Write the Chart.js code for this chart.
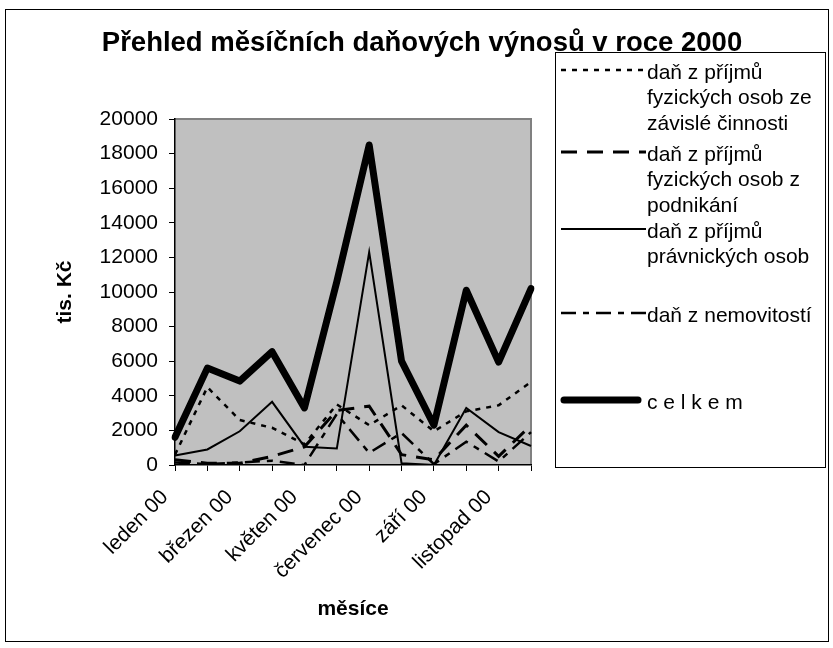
<!DOCTYPE html>
<html>
<head>
<meta charset="utf-8">
<script src="https://cdn.jsdelivr.net/npm/chart.js@4.4.1/dist/chart.umd.min.js"></script>
<style>
  html, body { margin: 0; padding: 0; background: #fff; }
  #wrap { width: 833px; height: 648px; }
</style>
</head>
<body>
<div id="wrap"><canvas id="chart" width="833" height="648"></canvas></div>
<script>
// mesice
const months = ["leden 00", "únor 00", "březen 00", "duben 00", "květen 00", "červen 00",
                "červenec 00", "srpen 00", "září 00", "říjen 00", "listopad 00", "prosinec 00"];

// tis. Kc
const zavisla = [600, 4500, 2600, 2150, 1200, 3500, 2300, 3450, 1950, 3100, 3450, 4800];
const podnikani = [300, 100, 100, 500, 1050, 3150, 3400, 600, 300, 2300, 500, 2300];
const pravnicke = [550, 900, 1950, 3650, 1060, 950, 12300, 100, 0, 3300, 1900, 1100];
const nemovitosti = [150, 50, 150, 250, 0, 2950, 700, 1850, 50, 1350, 200, 1900];
const celkem = [1600, 5600, 4850, 6550, 3300, 10600, 18500, 6000, 2300, 10100, 5950, 10200];

const yTicks = [0, 2000, 4000, 6000, 8000, 10000, 12000, 14000, 16000, 18000, 20000];

const legendLines = [
    ["daň z příjmů", "fyzických osob ze", "závislé činnosti"],
    ["daň z příjmů", "fyzických osob z", "podnikání"],
    ["daň z příjmů", "právnických osob"],
    ["daň z nemovitostí"],
    ["c e l k e m"]
];

const font = "'Liberation Sans', Arial, sans-serif";

const context = document.getElementById("chart").getContext("2d");

const area = { left: 175, top: 119, right: 531, bottom: 465 };

const excelLook = {
    id: "excelLook",
    beforeDraw(chart) {
        const ctx = chart.ctx;
        const ca = chart.chartArea;
        ctx.save();
        ctx.fillStyle = "#fff";
        ctx.fillRect(0, 0, chart.width, chart.height);
        ctx.fillStyle = "#c0c0c0";
        ctx.fillRect(ca.left, ca.top, ca.right - ca.left, ca.bottom - ca.top);
        ctx.strokeStyle = "#808080";
        ctx.lineWidth = 2;
        ctx.beginPath();
        ctx.moveTo(ca.left, ca.top);
        ctx.lineTo(ca.right, ca.top);
        ctx.lineTo(ca.right, ca.bottom);
        ctx.stroke();
        ctx.restore();
    },
    afterDraw(chart) {
        const ctx = chart.ctx;
        ctx.save();
        // ramecek grafu
        ctx.strokeStyle = "#000";
        ctx.lineWidth = 1;
        ctx.strokeRect(5.5, 9.5, 823, 632);

        // nadpis
        ctx.fillStyle = "#000";
        ctx.font = "bold 27.5px " + font;
        ctx.textAlign = "center";
        ctx.textBaseline = "alphabetic";
        ctx.fillText("Přehled měsíčních daňových výnosů v roce 2000", 422, 51);

        // popisky os
        ctx.font = "bold 21px " + font;
        ctx.fillText("měsíce", 353, 615);
        ctx.save();
        ctx.translate(71, 292);
        ctx.rotate(-Math.PI / 2);
        ctx.fillText("tis. Kč", 0, 0);
        ctx.restore();

        // legenda
        ctx.fillStyle = "#fff";
        ctx.fillRect(555, 52, 270, 415);
        ctx.strokeStyle = "#000";
        ctx.strokeRect(555.5, 52.5, 270, 415);

        const rowY = [70, 152, 229, 313, 400];
        ctx.font = "21px " + font;
        ctx.textAlign = "left";
        ctx.textBaseline = "middle";
        chart.data.datasets.forEach((ds, i) => {
            const y = rowY[i];
            ctx.save();
            ctx.strokeStyle = "#000";
            ctx.lineWidth = ds.borderWidth;
            ctx.setLineDash(ds.borderDash || []);
            ctx.lineCap = ds.borderCapStyle || "butt";
            ctx.beginPath();
            const x0 = ds.borderWidth > 4 ? 564 : 561;
            const x1 = ds.borderWidth > 4 ? 638 : 646;
            ctx.moveTo(x0, y);
            ctx.lineTo(x1, y);
            ctx.stroke();
            ctx.restore();
            ctx.fillStyle = "#000";
            legendLines[i].forEach((t, j) => {
                ctx.fillText(t, 647, y + 3 + j * 25.5);
            });
        });
        ctx.restore();
    }
};

const datasets = [
    { label: "daň z příjmů fyzických osob ze závislé činnosti", data: zavisla, borderWidth: 2.5, borderDash: [5, 6] },
    { label: "daň z příjmů fyzických osob z podnikání", data: podnikani, borderWidth: 3, borderDash: [16, 10] },
    { label: "daň z příjmů právnických osob", data: pravnicke, borderWidth: 2, borderDash: [] },
    { label: "daň z nemovitostí", data: nemovitosti, borderWidth: 2.5, borderDash: [15, 7, 6, 7] },
    { label: "c e l k e m", data: celkem, borderWidth: 7, borderDash: [], borderCapStyle: "round", borderJoinStyle: "round" }
].map(ds => Object.assign({
    borderColor: "#000",
    backgroundColor: "#000",
    pointRadius: 0,
    tension: 0,
    fill: false,
    borderJoinStyle: "miter"
}, ds));

const chart = new Chart(context, {
    type: "line",
    data: { labels: months, datasets },
    options: {
        responsive: false,
        animation: false,
        layout: { padding: { left: 0, top: area.top, right: 833 - area.right, bottom: 0 } },
        plugins: {
            legend: { display: false },
            title: { display: false },
            tooltip: { enabled: false }
        },
        scales: {
            x: {
                offset: false,
                afterFit: (s) => { s.height = 648 - area.bottom; },
                grid: { drawOnChartArea: false, drawTicks: true, tickLength: 6, color: "#000" },
                border: { color: "#000", width: 1.5 },
                ticks: {
                    autoSkip: false,
                    maxRotation: 45,
                    minRotation: 45,
                    padding: 14,
                    labelOffset: -10,
                    color: "#000",
                    font: { family: font, size: 21 },
                    callback: function (v, i) { return i % 2 === 0 ? months[i] : ""; }
                }
            },
            y: {
                min: 0,
                max: 20000,
                afterFit: (s) => { s.width = area.left; },
                afterBuildTicks: (s) => { s.ticks = yTicks.map(v => ({ value: v })); },
                grid: { drawOnChartArea: false, drawTicks: true, tickLength: 6, color: "#000" },
                border: { color: "#000", width: 1.5 },
                ticks: {
                    padding: 11,
                    color: "#000",
                    font: { family: font, size: 21 },
                    callback: (v) => String(v)
                }
            }
        }
    },
    plugins: [excelLook]
});
</script>
</body>
</html>
